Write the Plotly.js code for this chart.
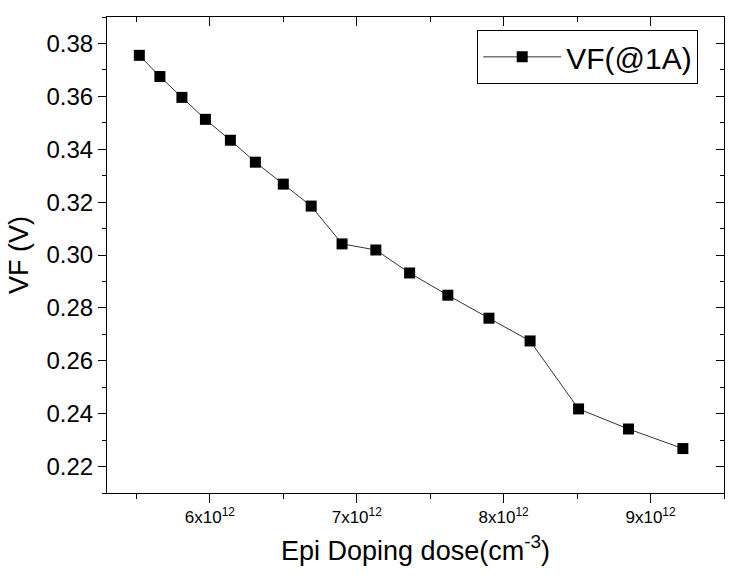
<!DOCTYPE html>
<html>
<head>
<meta charset="utf-8">
<script src="https://cdn.plot.ly/plotly-3.0.1.min.js"></script>
<style>
  html, body { margin: 0; padding: 0; background: #fff; }
  #myPlot { width: 736px; height: 583px; }
</style>
</head>
<body>
<div id="myPlot"></div>
<script>
// Epi doping dose (cm^-3) vs forward voltage at 1A
const dose = [5.52e12, 5.66e12, 5.81e12, 5.97e12, 6.14e12, 6.31e12, 6.50e12, 6.69e12,
              6.90e12, 7.13e12, 7.36e12, 7.62e12, 7.90e12, 8.18e12, 8.51e12, 8.85e12, 9.22e12];
const vf = [0.3755, 0.3675, 0.3596, 0.3513, 0.3434, 0.3351, 0.3268, 0.3185,
            0.3042, 0.3019, 0.2932, 0.2848, 0.2761, 0.2675, 0.2418, 0.2342, 0.2268];

const xTickVals = [6e12, 7e12, 8e12, 9e12];
const xTickText = ['6x10<sup>12</sup>', '7x10<sup>12</sup>', '8x10<sup>12</sup>', '9x10<sup>12</sup>'];

const font = '"Liberation Sans", Arial, sans-serif';
const xRange = [5.3e12, 9.5e12];
const yRange = [0.21, 0.39];

const trace = {
    x: dose,
    y: vf,
    mode: 'lines+markers',
    type: 'scatter',
    name: 'VF(@1A)',
    line: { color: '#333', width: 1 },
    marker: { symbol: 'square', size: 11, color: '#000' }
};

// invisible copy so the mirrored top/right axes get drawn
const mirror = {
    x: dose,
    y: vf,
    xaxis: 'x2',
    yaxis: 'y2',
    mode: 'markers',
    type: 'scatter',
    marker: { opacity: 0 },
    showlegend: false,
    hoverinfo: 'skip'
};

const layout = {
    width: 736,
    height: 583,
    margin: { l: 107, r: 12, t: 17, b: 90 },
    paper_bgcolor: '#fff',
    plot_bgcolor: '#fff',
    font: { family: font, color: '#000' },
    showlegend: true,
    legend: {
        x: 0.6, y: 0.973, xanchor: 'left', yanchor: 'top',
        bordercolor: '#000', borderwidth: 1, bgcolor: '#fff',
        font: { size: 30, family: font },
        itemwidth: 78
    },
    xaxis: {
        range: xRange,
        showgrid: false, zeroline: false,
        showline: true, linecolor: '#000', linewidth: 1,
        ticks: 'outside', ticklen: 9, tickcolor: '#000',
        tickvals: xTickVals, ticktext: xTickText,
        tickfont: { size: 17 },
        minor: { ticks: 'outside', ticklen: 5, dtick: 0.5e12, tick0: 5.5e12, tickcolor: '#000' },
        title: { text: 'Epi Doping dose(cm<sup>-3</sup>)', font: { size: 27 }, standoff: 14 }
    },
    yaxis: {
        range: yRange,
        showgrid: false, zeroline: false,
        showline: true, linecolor: '#000', linewidth: 1,
        ticks: 'outside', ticklen: 8, tickcolor: '#000',
        dtick: 0.02, tick0: 0.22, tickformat: '.2f',
        tickfont: { size: 24 },
        minor: { ticks: 'outside', ticklen: 4, dtick: 0.01, tickcolor: '#000' },
        title: { text: 'VF (V)', font: { size: 27 }, standoff: 10 }
    },
    xaxis2: {
        range: xRange, overlaying: 'x', side: 'top', anchor: 'y2',
        showgrid: false, zeroline: false,
        showline: true, linecolor: '#000', linewidth: 1,
        ticks: 'inside', ticklen: 9, tickcolor: '#000',
        tickvals: xTickVals, showticklabels: false,
        minor: { ticks: 'inside', ticklen: 5, dtick: 0.5e12, tick0: 5.5e12, tickcolor: '#000' }
    },
    yaxis2: {
        range: yRange, overlaying: 'y', side: 'right', anchor: 'x2',
        showgrid: false, zeroline: false,
        showline: true, linecolor: '#000', linewidth: 1,
        ticks: 'inside', ticklen: 8, tickcolor: '#000',
        dtick: 0.02, tick0: 0.22, showticklabels: false,
        minor: { ticks: 'inside', ticklen: 4, dtick: 0.01, tickcolor: '#000' }
    }
};

Plotly.newPlot('myPlot', [trace, mirror], layout, { displayModeBar: false, staticPlot: true });
</script>
</body>
</html>
